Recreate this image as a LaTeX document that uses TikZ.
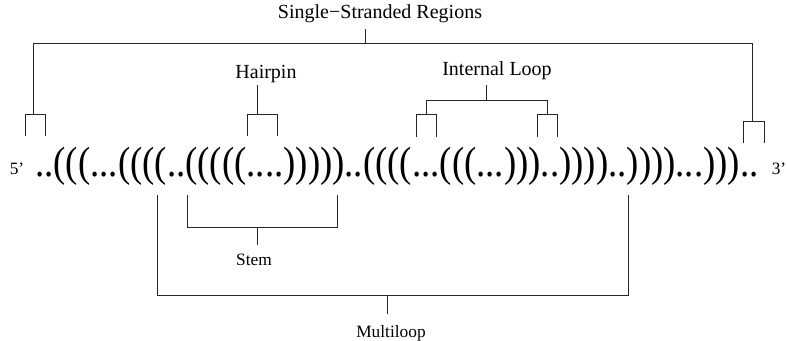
\documentclass[tikz,border=0pt]{standalone}
\usepackage{fontspec}
\setmainfont{Liberation Serif}

\tikzset{tag/.style = {anchor=base, inner sep=0pt, font=\fontsize{15}{18}\selectfont}}
\tikzset{smalltag/.style = {anchor=base, inner sep=0pt, font=\fontsize{13}{16}\selectfont}}
\tikzset{bar/.style = {draw=black!85, line width=0.7pt}}

\begin{document}
\begin{tikzpicture}[x=0.75pt, y=-0.75pt]
          \useasboundingbox (0,0) rectangle (787,341);

          % the dot-bracket string and its ends
          \node[anchor=base west, inner sep=0pt, font=\fontsize{27.6}{30}\selectfont] (seq) at (35,177)
            {\scalebox{1}[1.15]{..(((...((((..(((((....)))))..((((...(((...)))..))))..))))...)))..}};
          \node[smalltag] (five) at (17,175) {5'};
          \node[smalltag] (three) at (779,175) {3'};

          % labels
          \node[tag] (ss) at (380,19) {Single−Stranded Regions};
          \node[tag] (hp) at (266,79) {Hairpin};
          \node[tag] (il) at (497,76) {Internal Loop};
          \node[smalltag] (stem) at (254,266) {Stem};
          \node[smalltag] (ml) at (391,337) {Multiloop};

          % junctions
          \coordinate (ssj) at (365,43);
          \coordinate (ssl) at (33,114);
          \coordinate (ssr) at (752,121);
          \coordinate (hpj) at (257,114);
          \coordinate (ilj) at (486,100);
          \coordinate (ill) at (426,114);
          \coordinate (ilr) at (547,114);
          \coordinate (stemj) at (257,227);
          \coordinate (mlj) at (387,295);

          % single-stranded regions
          \draw[bar] (ssj |- 0,29) -- (ssj);
          \draw[bar] (ssl) -- (ssl |- ssj) -- (ssr |- ssj) -- (ssr);
          \draw[bar] (25,136) -- (25,114) -- (45,114) -- (45,136);
          \draw[bar] (743,143) -- (743,121) -- (764,121) -- (764,143);

          % hairpin
          \draw[bar] (hpj |- 0,85) -- (hpj);
          \draw[bar] (247,136) -- (247,114) -- (277,114) -- (277,136);

          % internal loop
          \draw[bar] (ilj |- 0,85) -- (ilj);
          \draw[bar] (ill) -- (ill |- ilj) -- (ilr |- ilj) -- (ilr);
          \draw[bar] (416,137) -- (416,114) -- (436,114) -- (436,137);
          \draw[bar] (537,137) -- (537,114) -- (557,114) -- (557,137);

          % stem
          \draw[bar] (187,195) -- (187,227) -- (337,227) -- (337,195);
          \draw[bar] (stemj) -- (stemj |- 0,245);

          % multiloop
          \draw[bar] (157,195) -- (157,295) -- (628,295) -- (628,195);
          \draw[bar] (mlj) -- (mlj |- 0,314);
        \end{tikzpicture}
\end{document}
